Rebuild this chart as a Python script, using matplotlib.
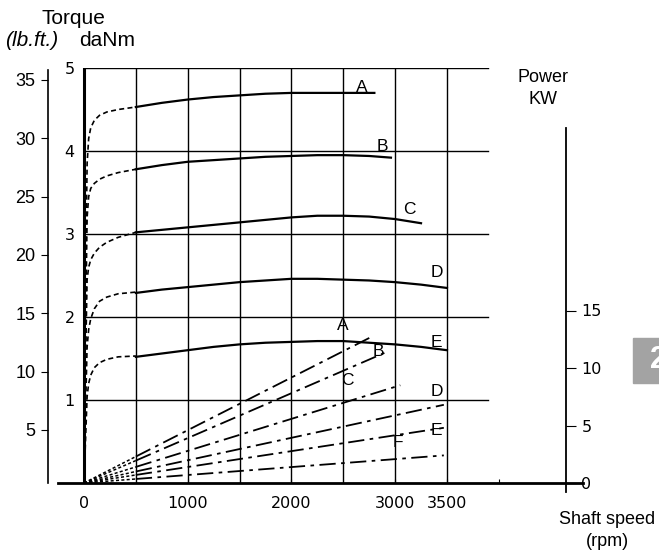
import numpy as np
import matplotlib.pyplot as plt
from matplotlib.patches import Rectangle

plt.rcParams['font.family'] = ['Liberation Sans', 'DejaVu Sans']

# torque curves (daNm), low speed part is dashed, rest is solid
curve_names = ['A', 'B', 'C', 'D', 'E']
low_rpm = [0, 10, 20, 30, 45, 65, 100, 150, 220, 330, 500]
low_torque = {
    'A': [0, 1.3, 2.9, 3.85, 4.15, 4.28, 4.37, 4.43, 4.47, 4.50, 4.53],
    'B': [0, 1.1, 2.3, 3.2, 3.45, 3.55, 3.61, 3.66, 3.70, 3.74, 3.78],
    'C': [0, 0.85, 1.8, 2.45, 2.60, 2.69, 2.77, 2.84, 2.90, 2.96, 3.02],
    'D': [0, 0.55, 1.15, 1.64, 1.85, 1.98, 2.10, 2.19, 2.24, 2.28, 2.30],
    'E': [0, 0.35, 0.7, 1.04, 1.20, 1.30, 1.39, 1.45, 1.49, 1.52, 1.53],
}
rpm_steps = [500, 750, 1000, 1250, 1500, 1750, 2000, 2250, 2500, 2750, 3000, 3250, 3500]
solid_rpm = {
    'A': rpm_steps[:9] + [2800],
    'B': rpm_steps[:10] + [2960],
    'C': rpm_steps[:12],
    'D': rpm_steps,
    'E': rpm_steps,
}
solid_torque = {
    'A': [4.53, 4.58, 4.62, 4.65, 4.67, 4.69, 4.70, 4.70, 4.70, 4.70],
    'B': [3.78, 3.83, 3.87, 3.89, 3.91, 3.93, 3.94, 3.95, 3.95, 3.94, 3.92],
    'C': [3.02, 3.05, 3.08, 3.11, 3.14, 3.17, 3.20, 3.22, 3.22, 3.21, 3.18, 3.13],
    'D': [2.29, 2.33, 2.36, 2.39, 2.42, 2.44, 2.46, 2.46, 2.45, 2.44, 2.42, 2.39, 2.35],
    'E': [1.52, 1.56, 1.60, 1.64, 1.67, 1.69, 1.70, 1.71, 1.71, 1.69, 1.67, 1.64, 1.60],
}
torque_label_pos = {'A': (2680, 4.76), 'B': (2880, 4.05), 'C': (3140, 3.30),
                    'D': (3400, 2.54), 'E': (3400, 1.69)}

# power lines (kW)
power_names = ['A', 'B', 'C', 'D', 'E', 'F']
power_rpm = {'A': [0, 500, 2770], 'B': [0, 500, 2920], 'C': [0, 500, 3050],
             'D': [0, 500, 3470], 'E': [0, 500, 3470], 'F': [0, 500, 3470]}
power_kw = {'A': [0, 2.3, 12.7], 'B': [0, 1.95, 11.4], 'C': [0, 1.4, 8.5],
            'D': [0, 1.0, 6.8], 'E': [0, 0.7, 4.8], 'F': [0, 0.35, 2.4]}
power_label_pos = {'A': (2500, 13.7), 'B': (2840, 11.4), 'C': (2540, 8.9),
                   'D': (3400, 8.0), 'E': (3400, 4.6), 'F': (3030, 3.5)}

speed_ticks = [0, 1000, 2000, 3000, 3500]
danm_ticks = [1, 2, 3, 4, 5]
lbft_ticks = [5, 10, 15, 20, 25, 30, 35]
kw_ticks = [0, 5, 10, 15]

W, H = 659, 554
fig = plt.figure(figsize=(W / 100, H / 100), dpi=100)

# layout in pixels
px_left, px_right, px_bottom, px_top = 58, 583, 483, 68
px_zero = 84
px_per_rpm = 0.1037
ax = fig.add_axes([px_left / W, (H - px_bottom) / H,
                   (px_right - px_left) / W, (px_bottom - px_top) / H])
ax.set_xlim((px_left - px_zero) / px_per_rpm, (px_right - px_zero) / px_per_rpm)
ax.set_ylim(0, 5)
grid_end = (488 - px_zero) / px_per_rpm

for s in ['left', 'top', 'right']:
    ax.spines[s].set_visible(False)
ax.spines['bottom'].set_linewidth(2)

# grid
for v in np.arange(500, 3501, 500):
    ax.plot([v, v], [0, 5], color='black', lw=1.0, zorder=1)
ax.plot([0, 0], [0, 5], color='black', lw=2.2, zorder=2)
for h in danm_ticks:
    ax.plot([0, grid_end], [h, h], color='black', lw=1.0, zorder=1)

# torque curves
for n in curve_names:
    ax.plot(low_rpm, low_torque[n], color='black', lw=1.2,
            linestyle=(0, (3, 2)), zorder=3)
    ax.plot(solid_rpm[n], solid_torque[n], color='black', lw=1.6, zorder=3)
    ax.text(*torque_label_pos[n], n, fontsize=12.5, ha='center', va='center')

ax.set_xticks(speed_ticks + [4000])
ax.set_xticklabels([str(t) for t in speed_ticks] + [''], fontsize=11.5,
                   family='DejaVu Sans')
ax.tick_params(axis='x', direction='in', length=3, pad=9)

ax.set_yticks(danm_ticks)
ax.set_yticklabels([str(t) for t in danm_ticks], fontsize=11.5,
                   family='DejaVu Sans')
ax.tick_params(axis='y', length=0, pad=-12)

# power axis
axp = ax.twinx()
kw_px = 11.5
axp.set_ylim(0, (px_bottom - px_top) / kw_px)
for s in ['left', 'top', 'bottom']:
    axp.spines[s].set_visible(False)
axp.spines['right'].set_position(('axes', (566 - px_left) / (px_right - px_left)))
axp.spines['right'].set_bounds(-0.8, (px_bottom - 128) / kw_px)
axp.spines['right'].set_linewidth(1.3)
axp.set_yticks(kw_ticks)
axp.set_yticklabels([str(t) for t in kw_ticks], fontsize=11.5,
                    family='DejaVu Sans')
axp.tick_params(axis='y', direction='out', length=7, width=0.8, pad=4)

for n in power_names:
    r, p = power_rpm[n], power_kw[n]
    axp.plot(r[:2], p[:2], color='black', lw=1.1, linestyle=(0, (2, 1.5)), zorder=3)
    axp.plot(r[1:], p[1:], color='black', lw=1.3,
             linestyle=(0, (9, 3, 2, 3)), zorder=3)
    axp.text(*power_label_pos[n], n, fontsize=12.5, ha='center', va='center')

# lb.ft axis
axl = ax.twinx()
lb_px = 11.667
lb_zero = 488.3
axl.set_ylim((lb_zero - px_bottom) / lb_px, (lb_zero - px_top) / lb_px)
for s in ['right', 'top', 'bottom']:
    axl.spines[s].set_visible(False)
axl.spines['left'].set_visible(True)
axl.spines['left'].set_position(('axes', (48 - px_left) / (px_right - px_left)))
axl.spines['left'].set_bounds((lb_zero - px_bottom) / lb_px, (lb_zero - 70) / lb_px)
axl.spines['left'].set_linewidth(1.2)
axl.yaxis.tick_left()
axl.set_yticks(lbft_ticks)
axl.set_yticklabels([str(t) for t in lbft_ticks], fontsize=13)
axl.tick_params(axis='y', direction='out', length=5, width=0.8, pad=4)

# titles
fig.text(73 / W, 1 - 18 / H, 'Torque', fontsize=15, ha='center', va='center')
fig.text(32 / W, 1 - 41 / H, '(lb.ft.)', fontsize=15, ha='center', va='center',
         style='italic')
fig.text(107 / W, 1 - 41 / H, 'daNm', fontsize=15, ha='center', va='center')
fig.text(543 / W, 1 - 78 / H, 'Power', fontsize=13, ha='center', va='center')
fig.text(543 / W, 1 - 100 / H, 'KW', fontsize=13, ha='center', va='center')
fig.text(607 / W, 1 - 519 / H, 'Shaft speed', fontsize=13, ha='center', va='center')
fig.text(607 / W, 1 - 542 / H, '(rpm)', fontsize=13, ha='center', va='center')

# gray tab at the right edge
fig.patches.append(Rectangle((633 / W, 1 - 383 / H), 30 / W, 45 / H,
                             transform=fig.transFigure, color='#a3a3a3'))
fig.text(650 / W, 1 - 360 / H, '2', fontsize=22, fontweight='bold',
         color='white', ha='left', va='center')

fig.savefig('out.png', dpi=100)
